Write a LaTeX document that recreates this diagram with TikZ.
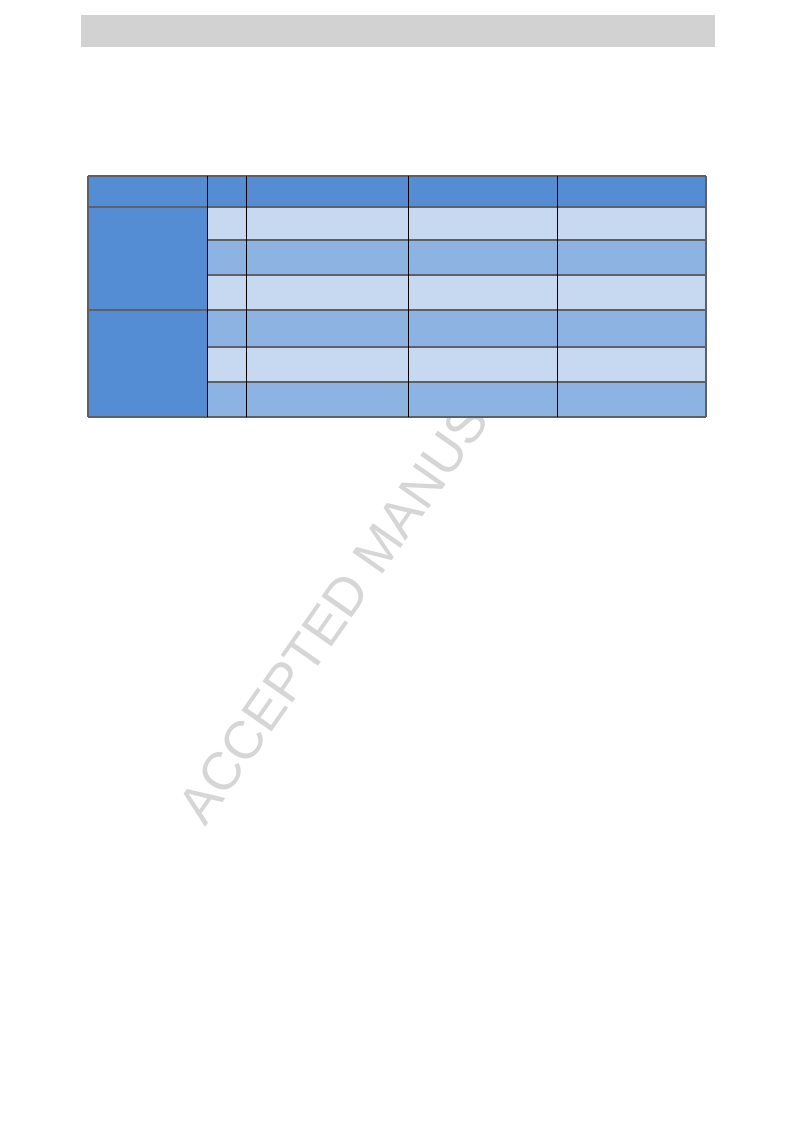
\documentclass[tikz,border=0pt]{standalone}
\usepackage{fontspec}
\usepackage{tikz}
\newfontfamily\wmfont{Liberation Sans}
\definecolor{headblue}{RGB}{84,141,212}
\definecolor{lightblue}{RGB}{198,217,240}
\definecolor{midblue}{RGB}{141,179,226}
\definecolor{rulegray}{RGB}{92,96,104}
\definecolor{bargray}{RGB}{210,210,210}
\definecolor{wmgray}{RGB}{214,214,214}

\begin{document}
\begin{tikzpicture}[x=0.75pt,y=-0.75pt,
  hrule/.style={rulegray,line width=1.1pt},
  vrule/.style={black,line width=0.6pt}]
\useasboundingbox(0,0) rectangle (793,1123);
\fill[white](0,0) rectangle (793,1123);
\fill[bargray](81,15) rectangle (715,47);
\node[wmgray,anchor=base west,rotate=55,inner sep=0pt,font=\wmfont\fontsize{40}{48}\selectfont] (wm) at (205,828) {ACCEPTED MANUSCRIPT};
% header and merged cells
\fill[headblue](88,176) rectangle (706,207);
\fill[headblue](88,207) rectangle (207,417);
% rows
\fill[lightblue](207,207) rectangle (706,240);
\fill[midblue](207,240) rectangle (706,275);
\fill[lightblue](207,275) rectangle (706,310);
\fill[midblue](207,310) rectangle (706,347);
\fill[lightblue](207,347) rectangle (706,382);
\fill[midblue](207,382) rectangle (706,417);
% rules
\draw[hrule](88,176)--(706,176);
\draw[hrule](88,207)--(706,207);
\draw[hrule](207,240)--(706,240);
\draw[hrule](207,275)--(706,275);
\draw[hrule](88,310)--(706,310);
\draw[hrule](207,347)--(706,347);
\draw[hrule](207,382)--(706,382);
\draw[hrule](88,417)--(706,417);
\draw[hrule](88,176)--(88,417);
\draw[hrule](706,176)--(706,417);
\draw[vrule](207,176)--(207,417);
\draw[vrule](246.5,176)--(246.5,417);
\draw[vrule](408.5,176)--(408.5,417);
\draw[vrule](557.5,176)--(557.5,417);
\end{tikzpicture}
\end{document}
